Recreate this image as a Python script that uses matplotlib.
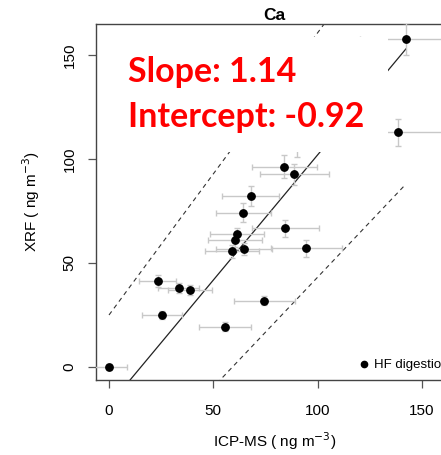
import numpy as np
import matplotlib
matplotlib.use("Agg")
import matplotlib.pyplot as plt
from matplotlib.patches import Rectangle
from matplotlib.lines import Line2D

plt.rcParams['font.family'] = ['Liberation Sans', 'DejaVu Sans']

# ICP-MS vs XRF, Ca (ng m-3)
icp = np.array([0, 23.3, 25.4, 33.4, 39.0, 55.6, 74.3, 59.0, 64.6, 60.4,
                61.5, 84.4, 94.6, 64.4, 67.9, 84.0, 88.8, 89.9, 138.7, 142.3])
xrf = np.array([0, 41.3, 25.0, 38.1, 36.9, 19.4, 31.9, 55.6, 56.7, 60.9,
                63.8, 66.7, 57.0, 74.2, 82.4, 96.3, 92.6, 105.9, 112.8, 157.7])
icp_err = np.array([8.8, 9.0, 9.4, 9.8, 10.5, 12.4, 14.6, 12.8, 13.3, 13.0,
                    13.0, 16.0, 17.2, 13.3, 13.7, 15.7, 16.5, 16.8, 22.0, 22.0])
xrf_err = np.array([1.5, 3.0, 2.0, 2.5, 2.5, 2.0, 2.0, 3.0, 3.0, 3.0,
                    3.0, 4.0, 4.0, 4.5, 4.8, 5.4, 5.2, 4.8, 6.4, 7.7])

# fitted line and bounds as drawn
fit_slope, fit_int = 1.204, -18.4
up_slope, up_int = 1.357, 25.0
lo_slope, lo_int = 1.058, -62.6

fig = plt.figure(figsize=(4.41, 4.55), dpi=100)
ax = fig.add_axes([96/441, 1-380/455, 357.3/441, 356/455])

ax.errorbar(icp, xrf, xerr=icp_err, yerr=xrf_err, fmt='o', color='black',
            ms=5.3, ecolor='#c8c8c8', elinewidth=1.0, capsize=2.5, capthick=1.0,
            zorder=3)

xx = np.array([0, icp.max()])
ax.plot(xx, fit_slope*xx + fit_int, color='#222222', lw=0.9, zorder=2)
ax.plot(xx, up_slope*xx + up_int, color='#333333', lw=0.8, ls=(0, (4, 3.5)), zorder=2)
ax.plot(xx, lo_slope*xx + lo_int, color='#333333', lw=0.8, ls=(0, (4, 3.5)), zorder=2)

ax.set_xlim(-6.23, 165)
ax.set_ylim(-6.25, 164.9)
ax.set_xticks([0, 50, 100, 150])
ax.set_yticks([0, 50, 100, 150])
ax.tick_params(labelsize=11, length=6, width=0.9, color='#555555')
ax.tick_params(axis='x', pad=11)
ax.tick_params(axis='y', pad=8)
for lab in ax.get_yticklabels():
    lab.set_rotation(90)
    lab.set_va('center')
for sp in ax.spines.values():
    sp.set_color('#444444')
    sp.set_linewidth(1.0)

ax.set_xlabel('ICP-MS ( ng m$^{-3}$)', fontsize=11, labelpad=9)
ax.set_ylabel('XRF ( ng m$^{-3}$)', fontsize=11, labelpad=15)
ax.set_title('Ca', fontsize=12.5, fontweight='bold', pad=3)

h = Line2D([], [], marker='o', color='black', ls='none', ms=4.5)
ax.legend([h], ['HF digestion'], loc='center left', bbox_to_anchor=(0.731, 0.042),
          frameon=False, fontsize=9.5, handlelength=1.0, handletextpad=0.3,
          borderpad=0, borderaxespad=0)

# white box with the red annotation
fig.add_artist(Rectangle((110/441, 1-152/455), 278/441, 115/455,
                         transform=fig.transFigure, facecolor='white',
                         edgecolor='none', zorder=5))
fig.text(127.7/441, 1-81.7/455, 'Slope: 1.14', color='#ff0000', fontsize=24.5,
         fontweight='bold', family=['Lato', 'DejaVu Sans'], va='baseline', zorder=6)
fig.text(127.7/441, 1-126.7/455, 'Intercept: -0.92', color='#ff0000', fontsize=24.5,
         fontweight='bold', family=['Lato', 'DejaVu Sans'], va='baseline', zorder=6)

fig.savefig('out.png', dpi=100)
